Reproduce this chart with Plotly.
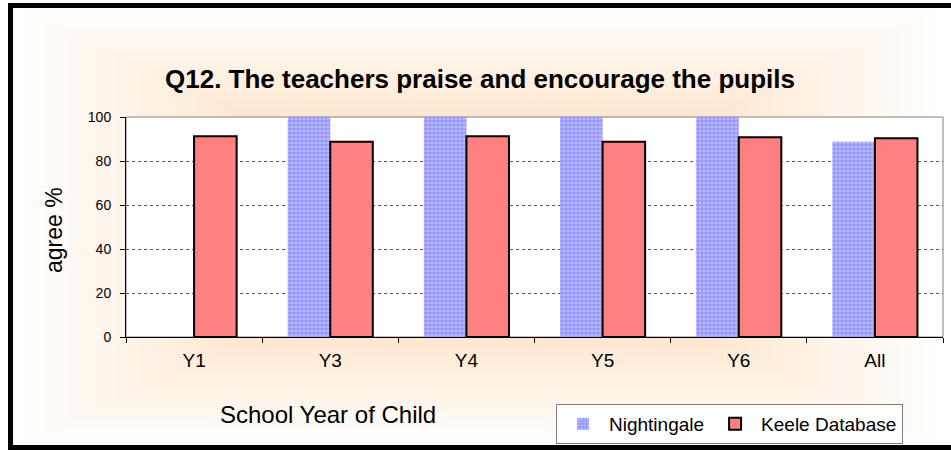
import plotly.graph_objects as go

categories = ["Y1", "Y3", "Y4", "Y5", "Y6", "All"]
nightingale = [None, 100, 100, 100, 100, 88.7]
keele = [91.2, 88.7, 91.2, 88.7, 90.8, 90.3]
y_ticks = [0, 20, 40, 60, 80, 100]

W, H = 951, 450
L, R, T, B = 126, 8, 117, 113
PW, PH = W - L - R, H - T - B


def px(xp):
    return (xp - L) / PW


def py(yp):
    return (H - B - yp) / PH


FONT = "Liberation Sans, Arial, sans-serif"

fig = go.Figure()
fig.add_trace(go.Bar(
    name="Nightingale", x=categories, y=nightingale,
    marker=dict(color="#9999FF", line=dict(width=0),
                pattern=dict(shape=".", bgcolor="#9999FF", fgcolor="#E6E6FF",
                             size=4, solidity=0.35)),
))
fig.add_trace(go.Bar(
    name="Keele Database", x=categories, y=keele,
    marker=dict(color="#FF8080", line=dict(width=2, color="black")),
))

shapes = []
# "from centre" gradient of the chart area: concentric opaque rectangles
N = 40
cx, cy, hw, hh = 479, 227, 469, 222
peak = (253, 206, 160)
for i in range(N):
    f = 1 - i / N
    t = 1 - f
    col = tuple(round(255 + (p - 255) * t) for p in peak)
    shapes.append(dict(
        type="rect", xref="paper", yref="paper", layer="below",
        x0=px(cx - hw * f), x1=px(cx + hw * f),
        y0=py(cy + hh * f), y1=py(cy - hh * f),
        fillcolor="rgb(%d,%d,%d)" % col, line=dict(width=0),
    ))
# white plot area with grey border
shapes.append(dict(type="rect", xref="x domain", yref="y domain", layer="below",
                   x0=0, x1=1, y0=0, y1=1, fillcolor="white",
                   line=dict(color="#808080", width=1)))
# outer frame
shapes.append(dict(type="rect", xref="paper", yref="paper", layer="above",
                   x0=px(10.5), x1=px(960), y0=py(447.5), y1=py(5.5),
                   line=dict(color="black", width=5)))

annotations = [
    dict(text="<b>Q12. The teachers praise and encourage the pupils</b>",
         xref="paper", yref="paper", x=px(163), y=py(79),
         xanchor="left", yanchor="middle", showarrow=False,
         font=dict(family=FONT, size=26, color="black")),
    dict(text="agree %", xref="paper", yref="paper", x=px(54), y=py(230),
         xanchor="center", yanchor="middle", textangle=-90, showarrow=False,
         font=dict(family=FONT, size=23, color="black")),
    dict(text="School Year of Child", xref="paper", yref="paper", x=px(328), y=py(414),
         xanchor="center", yanchor="middle", showarrow=False,
         font=dict(family=FONT, size=24, color="black")),
]

fig.update_layout(
    width=W, height=H,
    margin=dict(l=L, r=R, t=T, b=B, autoexpand=False),
    paper_bgcolor="white", plot_bgcolor="white",
    barmode="group", bargap=0.375, bargroupgap=0,
    font=dict(family=FONT, color="black"),
    shapes=shapes, annotations=annotations,
    legend=dict(orientation="h", x=px(556), y=py(404), xanchor="left", yanchor="top",
                bgcolor="white", bordercolor="#808080", borderwidth=1,
                font=dict(family=FONT, size=19, color="black"),
                itemwidth=42, traceorder="normal", tracegroupgap=0),
    showlegend=True,
)
fig.update_xaxes(
    type="category", showline=True, linecolor="black", linewidth=1,
    ticks="outside", tickson="boundaries", ticklen=5, tickcolor="black",
    tickfont=dict(family=FONT, size=19, color="black"), ticklabelstandoff=6,
    showgrid=False, fixedrange=True,
)
fig.update_yaxes(
    range=[0, 100], tickvals=y_ticks, showline=True, linecolor="black", linewidth=1,
    ticks="outside", ticklen=5, tickcolor="black",
    tickfont=dict(family=FONT, size=14, color="black"), ticklabelstandoff=6,
    showgrid=True, gridcolor="#555555", griddash="dot", gridwidth=1,
    zeroline=False, fixedrange=True,
)

fig.write_html("out.html", config={"displayModeBar": False},
               post_script="document.body.style.margin='0';")
